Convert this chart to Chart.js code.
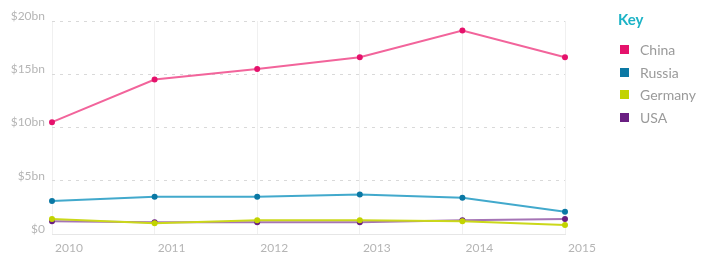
<!DOCTYPE html>
<html>
<head>
<meta charset="utf-8">
<script src="https://cdn.jsdelivr.net/npm/chart.js@4.4.0/dist/chart.umd.min.js"></script>
<style>
  html, body { margin: 0; padding: 0; background: #fff; }
  #wrap { position: relative; width: 708px; height: 258px; }
  #key { position: absolute; left: 618px; top: 10px; font-family: Lato, sans-serif; }
  #key h3 { margin: 0 0 10px 0; font-size: 15px; font-weight: 700; color: #1db3c6; }
  #key div { font-size: 14px; color: #9a9a9a; height: 22.7px; display: flex; align-items: center; }
  #key span { display: inline-block; width: 9px; height: 9px; margin: 0 11px 0 2px; }
</style>
</head>
<body>
<div id="wrap">
  <canvas id="linea" width="708" height="258"></canvas>
  <div id="key"><h3>Key</h3></div>
</div>
<script>
// Datos
const years = ['2010', '2011', '2012', '2013', '2014', '2015'];
const china = [10.5, 14.5, 15.5, 16.6, 19.1, 16.6];
const russia = [3.1, 3.5, 3.5, 3.7, 3.4, 2.1];
const germany = [1.4, 1.0, 1.3, 1.3, 1.2, 0.85];
const usa = [1.2, 1.1, 1.1, 1.1, 1.3, 1.4];
const yTicks = ['$0', '$5bn', '$10bn', '$15bn', '$20bn'];

const series = [
    { label: 'China', data: china, line: '#f2649b', dot: '#e5126c' },
    { label: 'Russia', data: russia, line: '#42a9cc', dot: '#0b78a4' },
    { label: 'Germany', data: germany, line: '#cbd81a', dot: '#c2d300' },
    { label: 'USA', data: usa, line: '#a574b5', dot: '#6a1f82' }
];

const dataLinea = {
    labels: years,
    datasets: series.map(s => ({
        label: s.label,
        data: s.data,
        borderColor: s.line,
        backgroundColor: s.dot,
        pointBackgroundColor: s.dot,
        pointBorderColor: s.dot,
        borderWidth: 2,
        pointRadius: 2,
        tension: 0
    }))
};

const configLinea = {
    type: 'line',
    data: dataLinea,
    options: {
        responsive: false,
        animation: false,
        layout: { padding: { top: 21, right: 143, left: 0, bottom: 0 } },
        plugins: { legend: { display: false }, tooltip: { enabled: false } },
        scales: {
            x: {
                grid: { color: '#f0f0f0', drawTicks: false },
                border: { display: true, color: '#e6e6e6' },
                ticks: { color: '#b5b5b5', font: { family: 'Lato', size: 12 }, padding: 7, labelOffset: 17, maxRotation: 0 },
                afterFit: s => { s.height = 24; }
            },
            y: {
                min: 0,
                max: 20,
                grid: { color: '#d9d9d9', drawTicks: false },
                border: { display: false, dash: [3, 5] },
                ticks: {
                    stepSize: 5,
                    color: '#b5b5b5',
                    font: { family: 'Lato', size: 12 },
                    padding: 7,
                    labelOffset: -5,
                    callback: (v) => yTicks[v / 5]
                },
                afterFit: s => { s.width = 52; }
            }
        }
    }
};

const lineChart = new Chart(document.getElementById('linea'), configLinea);

// Leyenda
const key = document.getElementById('key');
series.forEach(s => {
    const row = document.createElement('div');
    row.innerHTML = '<span style="background:' + s.dot + '"></span>' + s.label;
    key.appendChild(row);
});
</script>
</body>
</html>
